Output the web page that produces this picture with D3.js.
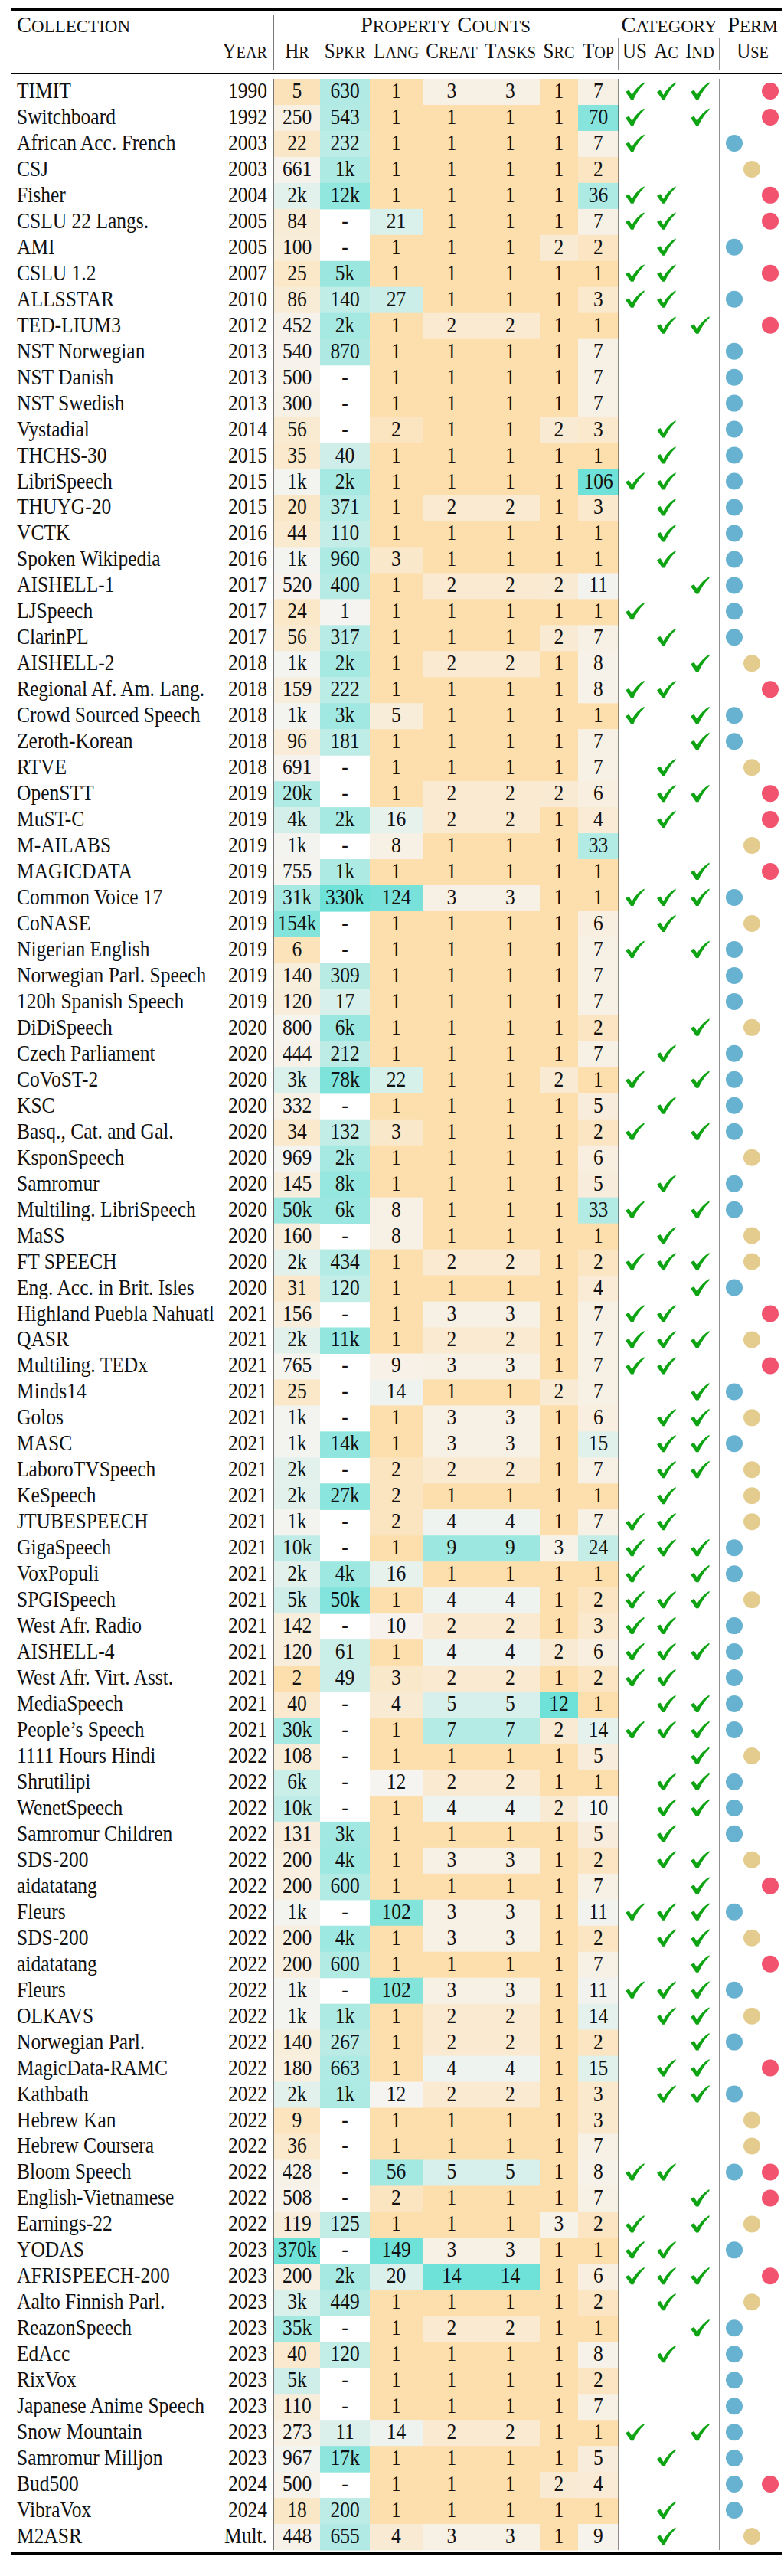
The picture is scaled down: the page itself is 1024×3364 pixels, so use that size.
<!DOCTYPE html>
<html>
<head>
<meta charset="utf-8">
<script src="https://cdn.jsdelivr.net/npm/d3@7"></script>
<style>
    body { margin: 0; background: #fff; }
    svg text { font-family: "Liberation Serif", "Times New Roman", serif; fill: #111; }
</style>
</head>
<body>
<div id="chart"></div>
<script>
var names = ["TIMIT", "Switchboard", "African Acc. French", "CSJ", "Fisher", "CSLU 22 Langs.", "AMI", "CSLU 1.2", "ALLSSTAR", "TED-LIUM3",
    "NST Norwegian", "NST Danish", "NST Swedish", "Vystadial", "THCHS-30", "LibriSpeech", "THUYG-20", "VCTK", "Spoken Wikipedia", "AISHELL-1",
    "LJSpeech", "ClarinPL", "AISHELL-2", "Regional Af. Am. Lang.", "Crowd Sourced Speech", "Zeroth-Korean", "RTVE", "OpenSTT", "MuST-C", "M-AILABS",
    "MAGICDATA", "Common Voice 17", "CoNASE", "Nigerian English", "Norwegian Parl. Speech", "120h Spanish Speech", "DiDiSpeech", "Czech Parliament", "CoVoST-2", "KSC",
    "Basq., Cat. and Gal.", "KsponSpeech", "Samromur", "Multiling. LibriSpeech", "MaSS", "FT SPEECH", "Eng. Acc. in Brit. Isles", "Highland Puebla Nahuatl", "QASR", "Multiling. TEDx",
    "Minds14", "Golos", "MASC", "LaboroTVSpeech", "KeSpeech", "JTUBESPEECH", "GigaSpeech", "VoxPopuli", "SPGISpeech", "West Afr. Radio",
    "AISHELL-4", "West Afr. Virt. Asst.", "MediaSpeech", "People\u2019s Speech", "1111 Hours Hindi", "Shrutilipi", "WenetSpeech", "Samromur Children", "SDS-200", "aidatatang",
    "Fleurs", "SDS-200", "aidatatang", "Fleurs", "OLKAVS", "Norwegian Parl.", "MagicData-RAMC", "Kathbath", "Hebrew Kan", "Hebrew Coursera",
    "Bloom Speech", "English-Vietnamese", "Earnings-22", "YODAS", "AFRISPEECH-200", "Aalto Finnish Parl.", "ReazonSpeech", "EdAcc", "RixVox", "Japanese Anime Speech",
    "Snow Mountain", "Samromur Milljon", "Bud500", "VibraVox", "M2ASR"];

var years = ["1990", "1992", "2003", "2003", "2004", "2005", "2005", "2007", "2010", "2012",
    "2013", "2013", "2013", "2014", "2015", "2015", "2015", "2016", "2016", "2017",
    "2017", "2017", "2018", "2018", "2018", "2018", "2018", "2019", "2019", "2019",
    "2019", "2019", "2019", "2019", "2019", "2019", "2020", "2020", "2020", "2020",
    "2020", "2020", "2020", "2020", "2020", "2020", "2020", "2021", "2021", "2021",
    "2021", "2021", "2021", "2021", "2021", "2021", "2021", "2021", "2021", "2021",
    "2021", "2021", "2021", "2021", "2022", "2022", "2022", "2022", "2022", "2022",
    "2022", "2022", "2022", "2022", "2022", "2022", "2022", "2022", "2022", "2022",
    "2022", "2022", "2022", "2023", "2023", "2023", "2023", "2023", "2023", "2023",
    "2023", "2023", "2024", "2024", "Mult."];

// property counts, as printed ("-" = unknown)
var hours = ["5", "250", "22", "661", "2k", "84", "100", "25", "86", "452",
    "540", "500", "300", "56", "35", "1k", "20", "44", "1k", "520",
    "24", "56", "1k", "159", "1k", "96", "691", "20k", "4k", "1k",
    "755", "31k", "154k", "6", "140", "120", "800", "444", "3k", "332",
    "34", "969", "145", "50k", "160", "2k", "31", "156", "2k", "765",
    "25", "1k", "1k", "2k", "2k", "1k", "10k", "2k", "5k", "142",
    "120", "2", "40", "30k", "108", "6k", "10k", "131", "200", "200",
    "1k", "200", "200", "1k", "1k", "140", "180", "2k", "9", "36",
    "428", "508", "119", "370k", "200", "3k", "35k", "40", "5k", "110",
    "273", "967", "500", "18", "448"];

var speakers = ["630", "543", "232", "1k", "12k", "-", "-", "5k", "140", "2k",
    "870", "-", "-", "-", "40", "2k", "371", "110", "960", "400",
    "1", "317", "2k", "222", "3k", "181", "-", "-", "2k", "-",
    "1k", "330k", "-", "-", "309", "17", "6k", "212", "78k", "-",
    "132", "2k", "8k", "6k", "-", "434", "120", "-", "11k", "-",
    "-", "-", "14k", "-", "27k", "-", "-", "4k", "50k", "-",
    "61", "49", "-", "-", "-", "-", "-", "3k", "4k", "600",
    "-", "4k", "600", "-", "1k", "267", "663", "1k", "-", "-",
    "-", "-", "125", "-", "2k", "449", "-", "120", "-", "-",
    "11", "17k", "-", "200", "655"];

var languages = [1, 1, 1, 1, 1, 21, 1, 1, 27, 1,
    1, 1, 1, 2, 1, 1, 1, 1, 3, 1,
    1, 1, 1, 1, 5, 1, 1, 1, 16, 8,
    1, 124, 1, 1, 1, 1, 1, 1, 22, 1,
    3, 1, 1, 8, 8, 1, 1, 1, 1, 9,
    14, 1, 1, 2, 2, 2, 1, 16, 1, 10,
    1, 3, 4, 1, 1, 12, 1, 1, 1, 1,
    102, 1, 1, 102, 1, 1, 1, 12, 1, 1,
    56, 2, 1, 149, 20, 1, 1, 1, 1, 1,
    14, 1, 1, 1, 4];

var creators = [3, 1, 1, 1, 1, 1, 1, 1, 1, 2,
    1, 1, 1, 1, 1, 1, 2, 1, 1, 2,
    1, 1, 2, 1, 1, 1, 1, 2, 2, 1,
    1, 3, 1, 1, 1, 1, 1, 1, 1, 1,
    1, 1, 1, 1, 1, 2, 1, 3, 2, 3,
    1, 3, 3, 2, 1, 4, 9, 1, 4, 2,
    4, 2, 5, 7, 1, 2, 4, 1, 3, 1,
    3, 3, 1, 3, 2, 2, 4, 2, 1, 1,
    5, 1, 1, 3, 14, 1, 2, 1, 1, 1,
    2, 1, 1, 1, 3];

var tasks = [3, 1, 1, 1, 1, 1, 1, 1, 1, 2,
    1, 1, 1, 1, 1, 1, 2, 1, 1, 2,
    1, 1, 2, 1, 1, 1, 1, 2, 2, 1,
    1, 3, 1, 1, 1, 1, 1, 1, 1, 1,
    1, 1, 1, 1, 1, 2, 1, 3, 2, 3,
    1, 3, 3, 2, 1, 4, 9, 1, 4, 2,
    4, 2, 5, 7, 1, 2, 4, 1, 3, 1,
    3, 3, 1, 3, 2, 2, 4, 2, 1, 1,
    5, 1, 1, 3, 14, 1, 2, 1, 1, 1,
    2, 1, 1, 1, 3];

var sources = [1, 1, 1, 1, 1, 1, 2, 1, 1, 1,
    1, 1, 1, 2, 1, 1, 1, 1, 1, 2,
    1, 2, 1, 1, 1, 1, 1, 2, 1, 1,
    1, 1, 1, 1, 1, 1, 1, 1, 2, 1,
    1, 1, 1, 1, 1, 1, 1, 1, 1, 1,
    2, 1, 1, 1, 1, 1, 3, 1, 1, 1,
    2, 1, 12, 2, 1, 1, 2, 1, 1, 1,
    1, 1, 1, 1, 1, 1, 1, 1, 1, 1,
    1, 1, 3, 1, 1, 1, 1, 1, 1, 1,
    1, 1, 2, 1, 1];

var topics = [7, 70, 7, 2, 36, 7, 2, 1, 3, 1,
    7, 7, 7, 3, 1, 106, 3, 1, 1, 11,
    1, 7, 8, 8, 1, 7, 7, 6, 4, 33,
    1, 1, 6, 7, 7, 7, 2, 7, 1, 5,
    2, 6, 5, 33, 1, 2, 4, 7, 7, 7,
    7, 6, 15, 7, 1, 7, 24, 1, 2, 3,
    6, 2, 1, 14, 5, 1, 10, 5, 2, 7,
    11, 2, 7, 11, 14, 2, 15, 3, 3, 7,
    8, 7, 2, 1, 6, 2, 1, 8, 2, 7,
    1, 5, 4, 1, 9];

// category ticks: U = US, A = Ac, I = Ind
var categories = ["UAI", "UI", "U", "", "UA", "UA", "A", "UA", "UA", "AI",
    "", "", "", "A", "A", "UA", "A", "A", "A", "I",
    "U", "A", "I", "UA", "UI", "I", "A", "AI", "A", "",
    "I", "UAI", "A", "UI", "", "", "I", "A", "UI", "A",
    "UI", "", "A", "UI", "A", "UAI", "I", "UA", "UAI", "UA",
    "I", "AI", "AI", "AI", "A", "UA", "UAI", "UI", "UAI", "UA",
    "UAI", "UA", "AI", "UAI", "I", "AI", "AI", "A", "AI", "I",
    "UAI", "AI", "I", "UAI", "AI", "I", "AI", "AI", "", "",
    "UA", "I", "UI", "UA", "UAI", "A", "I", "A", "", "",
    "UI", "A", "", "A", "A"];

// permitted use dots: b = blue, t = tan, r = red
var permUse = ["r", "r", "b", "t", "r", "r", "b", "r", "b", "r",
    "b", "b", "b", "b", "b", "b", "b", "b", "b", "b",
    "b", "b", "t", "r", "b", "b", "t", "r", "r", "t",
    "r", "b", "t", "b", "b", "b", "t", "b", "b", "b",
    "b", "t", "b", "b", "t", "t", "b", "r", "t", "r",
    "b", "t", "b", "t", "t", "t", "b", "b", "t", "b",
    "b", "b", "b", "b", "t", "b", "b", "b", "t", "r",
    "b", "t", "r", "b", "t", "b", "r", "b", "t", "t",
    "br", "r", "t", "b", "r", "t", "b", "b", "b", "b",
    "b", "b", "br", "b", "t"];

var W = 1024, H = 3364;
var svg = d3.select('#chart').append('svg').attr('width', W).attr('height', H);

var rowY = d3.scaleBand().domain(d3.range(names.length)).range([103, 3330]);
var bw = rowY.bandwidth();

var colEdges = [358, 418, 483, 552, 628, 705, 755, 808];
var heatCols = [
    {label: 'Hr', vals: hours},
    {label: 'Spkr', vals: speakers, mid: 1},   // speaker column only runs white -> teal
    {label: 'Lang', vals: languages},
    {label: 'Creat', vals: creators},
    {label: 'Tasks', vals: tasks},
    {label: 'Src', vals: sources},
    {label: 'Top', vals: topics}
];
var catCols = [{label: 'US', key: 'U', x: 829}, {label: 'Ac', key: 'A', x: 870}, {label: 'Ind', key: 'I', x: 914}];
var permX = {b: 959, t: 982, r: 1006};
var permColor = {b: '#67b2d0', t: '#e3cc8e', r: '#f2536f'};

var ramp = d3.piecewise(d3.interpolateRgb, ['#fddfae', '#f6f4f0', '#6ee1d8']);

function parseCount(s) {
    if (s === '-') return null;
    var m = String(s).match(/^([\d.]+)(k?)$/);
    return +m[1] * (m[2] ? 1000 : 1);
}

function bodyText(sel, x, y, anchor) {
    return sel.append('text')
        .attr('transform', 'translate(' + x + ',' + y + ') scale(0.88,1)')
        .attr('text-anchor', anchor)
        .attr('font-size', 29);
}

// capitals in str stay full size, lower case letters become small capitals
function smallCaps(g, str, x, y, anchor, sx) {
    var t = g.append('text')
        .attr('transform', 'translate(' + x + ',' + y + ') scale(' + (sx || 1) + ',1)')
        .attr('text-anchor', anchor);
    var runs = str.match(/[A-Z ]+|[a-z]+/g);
    runs.forEach(function (r) {
        var low = /[a-z]/.test(r);
        t.append('tspan').attr('font-size', low ? 23 : 28.5).text(r.toUpperCase());
    });
    return t;
}

// heat cells
var cells = svg.append('g');
heatCols.forEach(function (col, c) {
    var nums = col.vals.map(parseCount);
    var present = nums.filter(function (v) { return v !== null; });
    var lo = d3.min(present), hi = d3.max(present);
    var mid = col.mid !== undefined ? col.mid : Math.sqrt(lo * hi);
    var color = d3.scaleDivergingLog().domain([lo, mid, hi]).interpolator(ramp);
    var x0 = colEdges[c], x1 = colEdges[c + 1];

    nums.forEach(function (v, i) {
        if (v !== null) {
            cells.append('rect')
                .attr('x', x0).attr('y', rowY(i))
                .attr('width', x1 - x0).attr('height', bw + 0.6)
                .attr('fill', color(v));
        }
        bodyText(cells, (x0 + x1) / 2, rowY(i) + bw / 2 + 8, 'middle').text(String(col.vals[i]));
    });
});

// names and years
var body = svg.append('g');
names.forEach(function (n, i) {
    var y = rowY(i) + bw / 2 + 8;
    bodyText(body, 22, y, 'start').text(n);
    bodyText(body, 349, y, 'end').text(years[i]);
});

// category checks
var checkPath = 'M-12,1 L-7.5,-1.5 L-3.5,5 C0,-2 6,-8 12.5,-11.5 L12.5,-9.5 C6.5,-4 1.5,4 -1.5,11 L-5,11 Z';
categories.forEach(function (cat, i) {
    catCols.forEach(function (cc) {
        if (cat.indexOf(cc.key) >= 0) {
            body.append('path')
                .attr('d', checkPath)
                .attr('transform', 'translate(' + cc.x + ',' + (rowY(i) + bw / 2 - 1) + ')')
                .attr('fill', '#0ea313');
        }
    });
});

// permitted use dots
permUse.forEach(function (p, i) {
    p.split('').forEach(function (k) {
        body.append('circle')
            .attr('cx', permX[k]).attr('cy', rowY(i) + bw / 2 - 1)
            .attr('r', 11)
            .attr('fill', permColor[k]);
    });
});

// header
var head = svg.append('g');
smallCaps(head, 'Collection', 22, 42, 'start');
smallCaps(head, 'Property Counts', 582, 42, 'middle');
smallCaps(head, 'Category', 874, 42, 'middle');
smallCaps(head, 'Perm', 983, 42, 'middle');
smallCaps(head, 'Year', 349, 76, 'end', 0.88);
heatCols.forEach(function (col, c) {
    smallCaps(head, col.label, (colEdges[c] + colEdges[c + 1]) / 2, 76, 'middle', 0.88);
});
catCols.forEach(function (cc) {
    smallCaps(head, cc.label, cc.x, 76, 'middle', 0.88);
});
smallCaps(head, 'Use', 983, 76, 'middle', 0.88);

// rules
var rules = svg.append('g');
rules.append('line').attr('x1', 15).attr('x2', 1022).attr('y1', 12.5).attr('y2', 12.5)
    .attr('stroke', '#000').attr('stroke-width', 3);
rules.append('line').attr('x1', 15).attr('x2', 1022).attr('y1', 96).attr('y2', 96)
    .attr('stroke', '#000').attr('stroke-width', 2);
rules.append('line').attr('x1', 15).attr('x2', 1022).attr('y1', 3334.5).attr('y2', 3334.5)
    .attr('stroke', '#000').attr('stroke-width', 3);

rules.append('line').attr('x1', 357).attr('x2', 357).attr('y1', 20).attr('y2', 91)
    .attr('stroke', '#777').attr('stroke-width', 2);
rules.append('line').attr('x1', 357).attr('x2', 357).attr('y1', 103).attr('y2', 3330)
    .attr('stroke', '#777').attr('stroke-width', 2);
[808, 940].forEach(function (x) {
    rules.append('line').attr('x1', x).attr('x2', x).attr('y1', 49).attr('y2', 91)
        .attr('stroke', '#222').attr('stroke-width', 1);
    rules.append('line').attr('x1', x).attr('x2', x).attr('y1', 103).attr('y2', 3330)
        .attr('stroke', '#222').attr('stroke-width', 1);
});
</script>
</body>
</html>
